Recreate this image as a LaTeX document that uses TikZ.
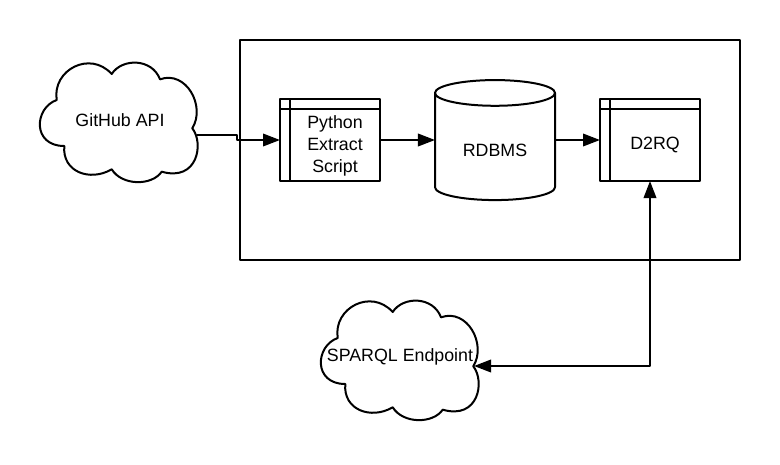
\documentclass[tikz,border=0pt]{standalone}
\usepackage{fontspec}
\setmainfont{Liberation Sans}
\usetikzlibrary{arrows.meta,shapes.geometric}
\newcommand{\cloudpath}{(111.7,74) .. controls (122,58) and (152,58) .. (160,79.3)
         .. controls (186,70) and (206,106) .. (192.3,128.3)
         .. controls (204,143) and (198,182) .. (161.7,171.7)
         .. controls (152,186) and (122,186) .. (111.7,169.3)
         .. controls (90,182) and (62,172) .. (64.3,146)
         .. controls (32,146) and (34,108) .. (56.7,100)
         .. controls (52,70) and (90,50) .. (111.7,74) -- cycle}
\tikzset{
  diagram/.style={line width=2pt,line join=round},
  flow/.style={diagram,-{Triangle[length=17pt,width=12.5pt]}},
  bothflow/.style={diagram,{Triangle[length=17pt,width=12.5pt]}-{Triangle[length=17pt,width=12.5pt]}},
  textlabel/.style={font=\fontsize{17.8}{22}\selectfont,align=center,inner sep=0pt},
  procbox/.style={diagram,draw,minimum width=100pt,minimum height=82pt,inner sep=0pt,outer sep=0pt},
  store/.style={diagram,draw,cylinder,shape border rotate=90,shape aspect=0.4,
    minimum width=120pt,minimum height=120pt,inner sep=0pt,outer sep=0pt,
    font=\fontsize{17.8}{22}\selectfont}
}
\begin{document}
\begin{tikzpicture}[x=1pt,y=-1pt]
       \useasboundingbox (0,0) rectangle (780,464);
       \draw[diagram] (240,40) rectangle (740,260);
       % clouds
       \draw[diagram] \cloudpath;
       \draw[diagram,shift={(281,238)}] \cloudpath;
       \node[textlabel] (github) at (120,120) {GitHub API};
       \node[textlabel] (sparql) at (400,357) {SPARQL Endpoint};
       \coordinate (githubout) at (197,135);
       \coordinate (sparqlin) at (474,366);
       % boxes
       \node[procbox] (extract) at (330,140) {};
       \node[procbox] (dtwo) at (650,140) {};
       \draw[diagram] ([xshift=10pt]extract.north west) -- ([xshift=10pt]extract.south west);
       \draw[diagram] ([yshift=-9.5pt]extract.north west) -- ([yshift=-9.5pt]extract.north east);
       \draw[diagram] ([xshift=10pt]dtwo.north west) -- ([xshift=10pt]dtwo.south west);
       \draw[diagram] ([yshift=-9.5pt]dtwo.north west) -- ([yshift=-9.5pt]dtwo.north east);
       \node[textlabel] (extractlabel) at (335,145.5) {Python\\Extract\\Script};
       \node[textlabel] (dtwolabel) at (655,144.5) {D2RQ};
       \node[store] (rdbms) at (495,147) {\phantom{RDBMS}};
       \node[textlabel] (rdbmslabel) at (495,150) {RDBMS};
       % connectors
       \draw[flow] (githubout) -- (237,135) -- (237,140) -- (extract.west);
       \draw[flow] (extract.east) -- (rdbms.west |- extract.east);
       \draw[flow] (rdbms.east |- dtwo.west) -- (dtwo.west);
       \draw[bothflow] (dtwo.south) |- (sparqlin);
      \end{tikzpicture}
\end{document}
